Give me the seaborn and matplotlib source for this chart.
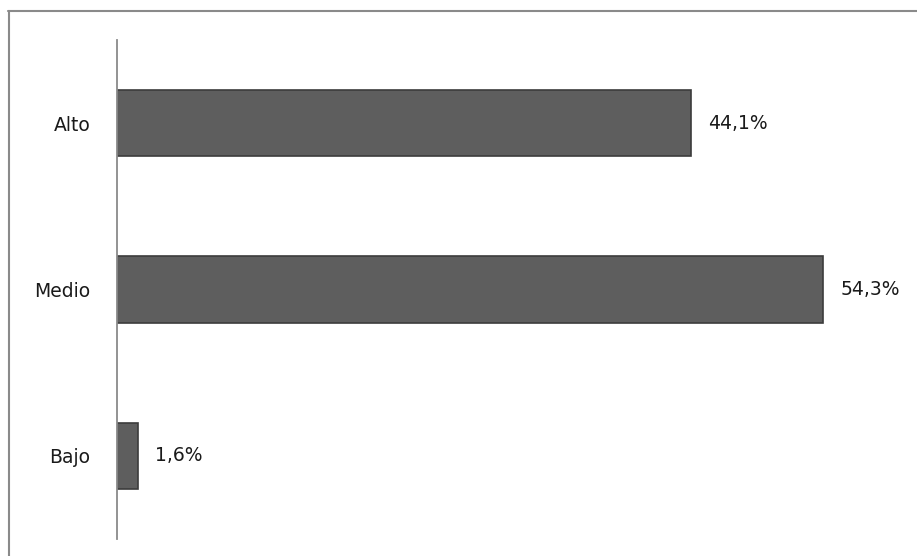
import pandas as pd
import matplotlib.pyplot as plt
import matplotlib.lines as mlines
import seaborn as sns

categories = ['Alto', 'Medio', 'Bajo']
values = [44.1, 54.3, 1.6]
value_labels = ['44,1%', '54,3%', '1,6%']

df = pd.DataFrame({'nivel': categories, 'porcentaje': values})

sns.set_style("white")
plt.rcParams['font.family'] = ['DejaVu Sans']
fig = plt.figure(figsize=(9.17, 5.56), dpi=100)
ax = fig.add_axes([117 / 917, 1 - 539 / 556, 783 / 917, 499 / 556])

sns.barplot(data=df, x='porcentaje', y='nivel', orient='h', ax=ax,
            color='#5e5e5e', width=0.40, edgecolor='#3c3c3c', linewidth=1.2,
            saturation=1)

# value labels at bar ends
for i, (v, lab) in enumerate(zip(values, value_labels)):
    ax.annotate(lab, (v, i), xytext=(12.5, 0), textcoords='offset points',
                va='center', ha='left', fontsize=13.5, color='#1a1a1a')

ax.set_xlim(0, 60.2)
ax.set_ylim(2.5, -0.5)
ax.set_xlabel('')
ax.set_ylabel('')
ax.set_xticks([])
ax.tick_params(axis='y', length=0, labelsize=13.5, labelcolor='#1a1a1a', pad=19)
for side in ['top', 'right', 'bottom']:
    ax.spines[side].set_visible(False)
ax.spines['left'].set_color('#8a8a8a')
ax.spines['left'].set_linewidth(1.3)

# outer frame (top and left edges visible)
fig.add_artist(mlines.Line2D([8 / 917, 1], [1 - 10.5 / 556, 1 - 10.5 / 556],
                             color='#8a8a8a', linewidth=1.5, transform=fig.transFigure))
fig.add_artist(mlines.Line2D([8.5 / 917, 8.5 / 917], [0, 1 - 10.5 / 556],
                             color='#8a8a8a', linewidth=1.5, transform=fig.transFigure))

fig.savefig('out.png', dpi=100)
